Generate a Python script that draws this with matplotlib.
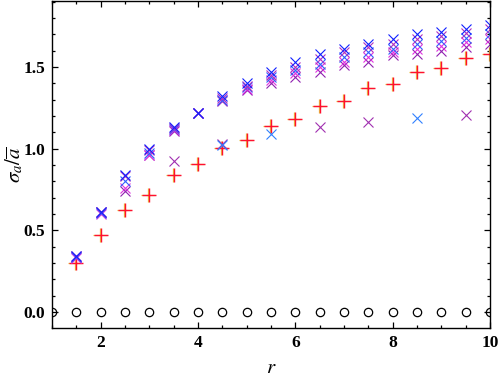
import matplotlib
matplotlib.use("Agg")
import matplotlib.pyplot as plt
import matplotlib.transforms as mtransforms
from matplotlib.ticker import MultipleLocator, FormatStrFormatter

R = [1.5, 2.0, 2.5, 3.0, 3.5, 4.0, 4.5, 5.0, 5.5, 6.0, 6.5, 7.0, 7.5, 8.0, 8.5, 9.0, 9.5, 10.0]
R_ZERO = [1.0] + R

ZERO = [0.0] * len(R_ZERO)

PLUS = [0.30, 0.47, 0.626, 0.718, 0.841, 0.907, 1.004, 1.053, 1.138, 1.183,
        1.258, 1.293, 1.368, 1.394, 1.467, 1.492, 1.557, 1.581]

# upper group of crosses, one list per series
CROSS_A = [0.34, 0.61, 0.84, 1.00, 1.13, 1.22, 1.32, 1.40, 1.47, 1.53,
           1.58, 1.61, 1.64, 1.67, 1.70, 1.715, 1.735, 1.755]
CROSS_B = [0.34, 0.61, 0.83, 0.99, 1.125, 1.22, 1.31, 1.385, 1.45, 1.50,
           1.55, 1.59, 1.62, 1.64, 1.67, 1.69, 1.71, 1.73]
CROSS_C = [0.335, 0.605, 0.80, 0.97, 1.12, 1.215, 1.30, 1.375, 1.44, 1.48,
           1.52, 1.56, 1.59, 1.61, 1.64, 1.66, 1.68, 1.70]
CROSS_D = [0.33, 0.60, 0.76, 0.96, 1.115, 1.215, 1.295, 1.365, 1.42, 1.46,
           1.50, 1.53, 1.56, 1.59, 1.61, 1.63, 1.65, 1.67]
CROSS_E = [0.335, 0.61, 0.74, 0.96, 1.11, 1.22, 1.29, 1.36, 1.40, 1.44,
           1.47, 1.51, 1.53, 1.57, 1.58, 1.60, 1.62, 1.64]

# lower stray crosses
R_LOW_P = [3.5, 4.5, 6.5, 7.5, 9.5]
LOW_P = [0.927, 1.03, 1.13, 1.163, 1.205]
R_LOW_B = [4.5, 5.5, 8.5]
LOW_B = [1.025, 1.09, 1.187]

plt.rcParams["font.family"] = ["Liberation Serif", "DejaVu Serif"]
plt.rcParams["mathtext.fontset"] = "stix"

fig = plt.figure(figsize=(5.0, 3.8), dpi=100)
ax = fig.add_axes([0.104, 0.137, 0.876, 0.861])

ax.plot(R_ZERO, ZERO, ls="none", marker="o", ms=6, mfc="none", mec="black", mew=0.9)

shadow = ax.transData + mtransforms.ScaledTranslation(-1 / 100, 0, fig.dpi_scale_trans)
ax.plot(R, PLUS, ls="none", marker="+", ms=9.5, mew=0.9, color="#e8c040", transform=shadow)
ax.plot(R, PLUS, ls="none", marker="+", ms=9.5, mew=1.0, color="#ff1030")

cross_kw = dict(ls="none", marker="x", ms=6.5, mew=0.8)
ax.plot(R, CROSS_E, color="#9020b0", **cross_kw)
ax.plot(R, CROSS_D, color="#e030e0", **cross_kw)
ax.plot(R, CROSS_C, color="#3060ff", **cross_kw)
ax.plot(R, CROSS_B, color="#b030c0", **cross_kw)
ax.plot(R, CROSS_A, color="#1020ff", **cross_kw)
ax.plot(R_LOW_P, LOW_P, color="#a030b0", **cross_kw)
ax.plot(R_LOW_B, LOW_B, color="#3080ff", **cross_kw)

ax.set_xlim(1.0, 10.0)
ax.set_ylim(-0.098, 1.905)
ax.xaxis.set_major_locator(MultipleLocator(2))
ax.xaxis.set_minor_locator(MultipleLocator(0.5))
ax.yaxis.set_major_locator(MultipleLocator(0.5))
ax.yaxis.set_minor_locator(MultipleLocator(0.1))
ax.yaxis.set_major_formatter(FormatStrFormatter("%.1f"))

ax.tick_params(which="both", direction="in", top=True, right=True, width=0.9)
ax.tick_params(which="major", length=4.5, labelsize=12.5, pad=5)
ax.tick_params(which="minor", length=2.5)
for lab in ax.get_xticklabels() + ax.get_yticklabels():
    lab.set_fontweight("bold")
for s in ax.spines.values():
    s.set_linewidth(1.0)

ax.set_xlabel(r"$\mathbf{\mathit{r}}$", fontsize=15, labelpad=6)
ax.set_ylabel(r"$\sigma_a/\overline{a}$", fontsize=15)
ax.yaxis.set_label_coords(-0.062, 0.5)

fig.savefig("out.png", dpi=100)
